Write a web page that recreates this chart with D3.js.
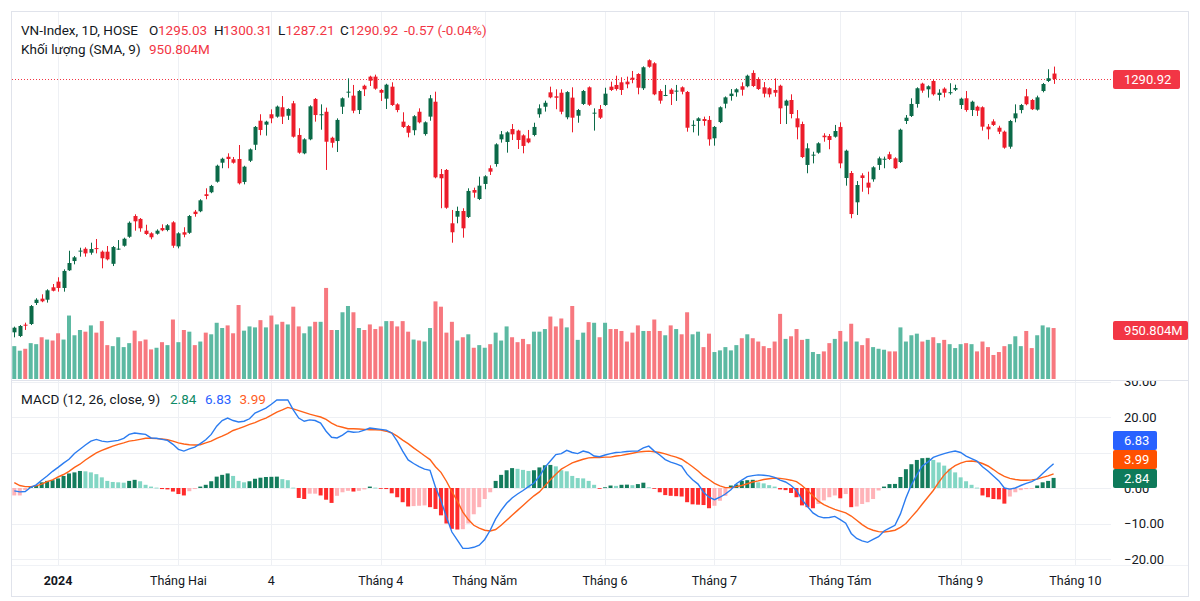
<!DOCTYPE html>
<html><head><meta charset="utf-8">
<script src="https://cdn.jsdelivr.net/npm/d3@7"></script>
<style>
body{margin:0;background:#fff;}
text{font-family:Roboto,"Liberation Sans",sans-serif;}
</style>
</head><body>
<svg id="c" width="1200" height="601"></svg>
<script>
// ---- DATA ----
const openP = [
1099.0,1096.2,1104.8,1105.3,1121.2,1124.5,1123.7,1133.1,1137.4,1132.6,
1146.0,1153.0,1160.5,1162.3,1159.3,1162.8,1160.1,1160.1,1150.9,1162.0,
1164.6,1171.4,1187.1,1184.9,1176.0,1174.0,1173.7,1178.0,1176.5,1182.3,
1164.1,1174.8,1174.4,1190.4,1190.7,1203.6,1205.1,1213.1,1227.5,1232.0,
1230.1,1230.3,1212.9,1229.0,1241.1,1259.3,1256.3,1264.2,1262.4,1269.5,
1263.1,1272.5,1248.5,1234.6,1245.2,1275.8,1263.8,1266.1,1246.4,1243.9,
1269.9,1280.9,1278.3,1267.4,1285.8,1292.7,1292.7,1282.6,1276.0,1285.1,
1271.7,1258.6,1255.3,1252.1,1266.1,1249.2,1262.4,1273.7,1218.9,1222.0,
1181.6,1186.6,1190.9,1186.4,1206.8,1200.0,1211.4,1223.3,1226.5,1245.2,
1243.2,1253.0,1251.8,1248.2,1245.9,1248.5,1264.2,1269.9,1280.8,1277.8,
1280.5,1261.9,1276.8,1263.1,1272.0,1284.6,1265.3,1268.2,1271.2,1285.1,
1286.4,1288.4,1288.9,1291.9,1294.7,1283.9,1305.1,1302.8,1281.8,1278.5,
1282.8,1281.8,1284.6,1281.1,1255.5,1259.1,1260.6,1259.9,1246.0,1258.3,
1272.2,1278.0,1280.8,1285.4,1285.4,1295.5,1290.9,1284.6,1283.9,1282.6,
1285.8,1270.7,1275.0,1261.1,1256.8,1225.8,1233.2,1235.1,1248.0,1247.7,
1247.2,1254.6,1215.9,1219.7,1197.5,1217.9,1212.4,1214.9,1225.8,1230.1,
1233.9,1230.8,1228.0,1259.1,1262.9,1272.0,1287.4,1283.1,1289.4,1278.8,
1283.6,1280.6,1282.8,1271.2,1276.3,1267.4,1269.9,1269.5,1254.8,1258.8,
1254.0,1251.0,1239.6,1261.1,1267.4,1277.8,1275.0,1267.7,1281.8,1289.4,
1295.03];
const highP = [
1103.3,1104.5,1106.3,1119.7,1124.8,1127.8,1131.6,1135.6,1140.7,1146.7,
1160.8,1156.8,1163.1,1163.4,1166.9,1169.7,1161.0,1164.4,1164.4,1168.9,
1170.7,1183.0,1188.4,1185.6,1180.5,1174.8,1177.0,1180.8,1181.0,1183.2,
1174.8,1178.6,1187.9,1191.7,1199.8,1208.1,1210.7,1226.0,1231.3,1234.6,
1231.8,1240.9,1225.2,1238.3,1255.3,1264.2,1259.3,1267.9,1270.8,1278.0,
1268.7,1274.3,1253.6,1246.0,1271.0,1276.5,1271.7,1269.2,1247.2,1261.1,
1277.0,1291.4,1286.4,1282.6,1286.6,1293.4,1294.2,1283.4,1287.3,1288.4,
1272.5,1265.7,1256.1,1263.5,1268.7,1258.8,1278.8,1281.3,1222.7,1222.7,
1191.7,1194.2,1193.0,1208.1,1208.6,1216.9,1218.0,1225.5,1242.2,1251.5,
1251.3,1256.8,1252.5,1249.0,1252.3,1257.8,1271.7,1274.5,1285.1,1283.1,
1283.1,1281.7,1284.6,1268.2,1282.6,1285.3,1268.7,1271.2,1284.3,1288.9,
1293.4,1292.2,1292.7,1297.0,1295.3,1300.5,1305.8,1303.6,1283.1,1286.4,
1283.9,1286.4,1285.3,1281.8,1259.6,1261.9,1262.4,1262.9,1255.3,1270.2,
1277.7,1283.3,1283.9,1288.4,1294.2,1297.5,1292.2,1288.6,1284.6,1291.4,
1286.6,1275.3,1279.3,1267.4,1258.6,1242.2,1235.8,1243.0,1249.8,1249.2,
1256.1,1258.1,1237.4,1221.2,1213.6,1219.5,1220.7,1224.8,1232.1,1232.1,
1235.8,1231.6,1253.3,1263.6,1276.3,1284.6,1288.1,1286.1,1290.7,1283.1,
1284.6,1287.7,1286.6,1276.8,1281.8,1274.5,1270.7,1270.2,1256.8,1260.4,
1255.5,1251.8,1259.9,1271.7,1272.0,1283.3,1275.8,1278.3,1287.9,1298.3,
1300.31];
const lowP = [
1095.2,1095.4,1100.8,1104.5,1119.7,1121.8,1121.5,1130.0,1129.8,1129.8,
1145.5,1150.5,1156.3,1156.3,1157.8,1158.8,1147.5,1153.5,1149.2,1161.4,
1163.9,1170.6,1176.0,1175.2,1172.8,1169.5,1173.0,1175.6,1175.5,1163.0,
1162.6,1171.0,1173.6,1186.6,1190.0,1199.8,1204.4,1212.4,1223.3,1223.3,
1226.8,1211.0,1211.1,1228.0,1237.1,1248.3,1248.0,1257.4,1261.6,1256.8,
1259.9,1246.5,1234.3,1233.9,1244.5,1258.6,1252.5,1222.0,1238.9,1235.6,
1264.4,1276.8,1265.0,1264.4,1278.0,1285.6,1282.8,1274.3,1268.2,1270.5,
1265.7,1253.8,1246.7,1248.3,1257.3,1248.0,1259.3,1215.7,1193.0,1192.6,
1166.9,1181.6,1170.7,1185.6,1201.0,1199.2,1207.4,1218.2,1224.5,1242.7,
1235.1,1244.7,1237.9,1234.6,1242.2,1247.5,1261.6,1266.2,1276.3,1268.0,
1264.2,1260.4,1250.5,1257.8,1271.2,1270.5,1251.8,1260.6,1270.5,1281.8,
1282.1,1278.8,1283.9,1287.7,1279.3,1282.6,1299.5,1278.6,1272.2,1277.9,
1271.2,1274.3,1279.3,1251.0,1250.5,1248.0,1255.5,1240.4,1240.4,1257.5,
1268.7,1274.5,1277.5,1278.3,1284.6,1284.8,1282.6,1277.0,1277.0,1277.5,
1256.8,1256.8,1261.1,1245.2,1231.0,1219.5,1227.0,1234.3,1243.4,1237.7,
1246.5,1223.3,1210.1,1185.4,1187.9,1205.5,1203.6,1213.1,1222.0,1223.3,
1229.6,1222.7,1227.3,1256.8,1262.1,1269.2,1280.5,1276.8,1278.3,1274.5,
1277.0,1279.0,1281.8,1268.2,1266.1,1262.9,1262.9,1251.8,1245.2,1255.3,
1249.2,1238.1,1238.1,1258.1,1264.9,1271.0,1267.4,1267.0,1280.8,1288.6,
1287.21];
const closeP = [
1102.5,1103.8,1104.0,1118.9,1123.7,1122.5,1130.8,1130.5,1132.6,1145.5,
1151.5,1155.8,1160.9,1158.8,1162.1,1162.3,1155.1,1154.3,1163.6,1162.4,
1169.9,1182.0,1183.1,1177.8,1173.5,1171.0,1176.0,1176.3,1180.1,1164.6,
1174.0,1173.0,1187.1,1188.6,1199.0,1202.3,1209.9,1225.2,1230.5,1230.3,
1227.5,1211.9,1224.5,1237.6,1254.6,1252.3,1258.6,1261.1,1270.0,1262.4,
1268.2,1247.2,1235.1,1245.2,1270.2,1263.6,1264.2,1243.4,1242.6,1259.9,
1276.3,1281.3,1266.9,1281.8,1283.1,1289.6,1283.6,1280.5,1286.6,1271.2,
1267.4,1254.6,1250.2,1262.7,1258.1,1258.1,1276.3,1216.4,1215.7,1193.4,
1174.8,1190.9,1177.8,1206.1,1204.8,1210.1,1217.2,1220.7,1241.4,1249.0,
1250.5,1249.0,1244.7,1240.2,1242.9,1254.6,1268.7,1272.9,1277.0,1276.7,
1266.1,1281.0,1261.6,1267.4,1281.8,1271.4,1265.4,1261.6,1279.8,1282.6,
1283.3,1282.6,1286.9,1290.4,1284.3,1299.8,1300.2,1279.3,1274.5,1278.8,
1279.6,1282.1,1281.3,1254.0,1256.2,1261.1,1259.1,1245.2,1254.6,1269.5,
1277.0,1279.8,1283.1,1282.8,1293.4,1285.6,1283.3,1279.8,1279.3,1280.5,
1268.7,1274.5,1264.4,1254.3,1231.8,1238.4,1233.6,1242.2,1246.8,1244.7,
1251.5,1227.0,1236.6,1188.6,1210.6,1215.9,1208.6,1224.0,1230.8,1230.5,
1230.3,1223.3,1252.5,1261.6,1272.0,1283.9,1282.1,1285.4,1279.3,1280.5,
1280.5,1280.9,1284.1,1276.0,1267.4,1273.7,1266.9,1254.8,1252.8,1256.1,
1251.0,1238.9,1259.1,1264.9,1271.2,1271.8,1268.0,1277.0,1287.1,1291.49,
1290.92];
// volume, millions of shares
const volumeM = [
613,528,564,669,650,779,736,718,853,736,
1184,816,914,883,1000,865,1080,632,613,779,
595,669,902,705,736,552,583,687,632,1110,
687,914,883,632,699,865,834,1049,951,1000,
853,1380,902,981,963,1098,963,1184,1018,1067,
1018,1349,981,853,981,1067,1067,1699,914,914,
1245,1362,1245,951,914,1018,932,981,1080,1080,
981,1080,883,736,718,699,951,1448,1349,865,
1067,718,779,834,583,632,583,650,865,718,
981,779,687,748,650,883,883,932,1165,981,
1129,963,1362,730,865,1061,1049,779,1049,932,
932,896,699,865,1000,896,896,1110,896,816,
1000,932,834,1245,834,883,595,846,503,534,
595,534,632,761,834,761,699,613,577,699,
1215,748,797,932,730,748,503,466,515,669,
748,896,699,1031,699,632,761,595,564,546,
515,515,963,699,816,846,699,730,779,669,
730,650,577,650,669,650,515,699,595,448,
503,613,650,797,613,896,577,816,1000,963,
950.804];
const macdLine = [
-0.8,-1.1,-1.0,0.2,0.9,2.2,3.4,4.7,5.8,7.0,
8.1,9.7,10.9,12.1,13.2,13.7,13.2,13.0,13.2,13.4,
14.0,15.1,15.5,15.3,15.1,14.1,14.0,13.7,13.4,12.3,
10.9,10.4,11.0,11.5,12.5,13.6,15.1,17.4,19.0,19.7,
19.0,18.6,18.8,19.5,21.1,21.8,22.5,23.6,24.8,24.8,
24.8,22.0,19.7,18.8,19.2,19.0,18.3,16.0,14.3,14.1,
14.9,16.0,15.7,15.8,16.3,16.9,16.7,16.5,16.3,15.5,
13.2,10.4,7.9,6.9,6.0,5.3,5.0,0.2,-3.5,-8.2,
-12.4,-14.7,-17.0,-17.0,-16.7,-16.1,-14.5,-11.9,-8.7,-6.3,
-4.3,-2.8,-1.7,-0.7,0.4,1.4,3.3,5.8,7.6,9.4,
9.7,10.6,10.0,9.7,10.4,10.0,9.0,8.8,9.3,9.7,
10.0,10.1,10.3,10.4,10.4,11.3,11.8,10.4,9.3,8.0,
7.3,6.8,6.2,3.9,2.3,1.1,-1.2,-2.6,-3.3,-2.6,
-1.7,-0.5,1.2,2.2,3.2,3.5,3.7,3.6,3.4,3.0,
2.2,1.7,0.7,-0.7,-3.3,-5.2,-7.0,-8.0,-8.4,-8.3,
-8.0,-8.9,-9.9,-12.8,-14.2,-14.9,-15.3,-14.5,-13.7,-12.1,
-11.3,-10.5,-7.3,-2.8,0.9,3.7,6.2,7.3,8.6,9.2,
9.7,10.1,10.4,10.0,9.0,8.3,7.6,6.0,4.8,3.4,
2.0,0.0,-0.3,0.0,0.7,1.3,1.8,2.6,4.1,5.5,
6.83];
const signalLine = [
1.5,0.7,0.4,0.4,0.6,1.1,1.8,2.3,3.1,3.8,
4.7,5.8,6.7,7.9,8.9,9.9,10.6,11.2,11.8,12.3,
12.7,13.2,13.4,13.7,14.0,14.0,13.9,13.8,13.6,13.2,
12.7,12.4,12.2,12.1,12.2,12.7,13.2,14.0,14.6,15.3,
16.2,16.7,17.3,17.9,18.4,19.1,19.7,20.5,21.4,22.0,
22.7,22.3,21.8,21.3,20.8,20.4,20.0,19.3,18.3,17.5,
17.1,16.7,16.7,16.6,16.5,16.4,16.4,16.3,16.0,15.5,
14.6,13.5,12.5,11.3,10.2,9.1,8.0,6.0,4.4,1.9,
-1.0,-3.7,-6.8,-8.9,-10.5,-11.3,-11.9,-12.1,-11.7,-10.5,
-9.1,-7.7,-6.3,-4.9,-3.5,-2.2,-1.1,0.6,2.3,3.9,
5.3,6.2,7.1,7.6,8.1,8.5,8.6,8.6,8.7,8.7,
9.0,9.2,9.5,9.8,10.1,10.3,10.4,10.2,10.0,9.6,
9.1,8.7,8.1,7.1,6.0,4.8,3.4,2.4,1.3,0.6,
0.1,0.1,0.4,0.7,1.2,1.7,2.0,2.4,2.6,2.8,
2.7,2.5,2.2,1.8,0.7,-0.7,-2.2,-3.7,-4.7,-5.4,
-6.0,-6.5,-7.0,-7.9,-9.1,-10.3,-11.3,-11.9,-12.3,-12.4,
-12.2,-11.9,-11.1,-10.0,-8.2,-6.5,-4.5,-2.6,-0.7,1.6,
3.7,5.2,6.3,7.0,7.5,7.6,7.4,6.9,6.2,5.2,
4.1,3.3,2.7,2.4,2.2,2.2,2.3,2.5,3.0,3.4,
3.99];
const histVals = [
-2.1,-2.1,-0.6,0.4,0.7,1.6,2.0,2.2,2.7,3.4,
4.1,4.4,4.8,4.7,4.4,3.9,3.0,2.0,1.7,1.6,
1.5,2.0,2.3,1.9,0.9,0.4,0.1,-0.3,-0.4,-1.0,
-1.7,-2.1,-0.9,-0.3,0.4,0.9,1.9,3.2,3.7,4.1,
3.4,2.0,1.6,1.9,2.6,2.9,3.1,3.15,3.2,2.5,
2.2,0.1,-2.8,-3.1,-1.6,-1.6,-2.1,-3.3,-4.2,-2.2,
-1.2,-0.8,-1.0,-0.8,-0.4,0.4,0.1,-0.2,-0.3,-1.5,
-2.6,-4.0,-5.2,-5.1,-5.0,-4.9,-5.4,-5.9,-7.7,-10.0,
-11.5,-11.7,-11.6,-10.0,-7.4,-5.4,-3.1,-1.2,2.0,3.7,
5.0,5.6,5.4,5.1,4.8,5.0,5.8,6.4,6.5,6.1,
5.0,4.7,3.4,2.8,2.7,2.0,0.9,-0.1,0.2,0.7,
0.6,0.9,0.95,0.8,1.1,1.5,0.2,-0.2,-1.2,-2.0,
-2.2,-2.3,-2.4,-4.0,-4.6,-4.7,-4.8,-5.7,-5.0,-3.6,
-2.2,0.7,1.0,2.0,2.2,2.3,1.6,1.3,0.8,0.4,
-0.4,-0.6,-1.4,-2.6,-4.9,-5.4,-5.7,-4.5,-3.5,-2.6,
-2.1,-2.9,-1.7,-5.4,-5.2,-4.5,-4.0,-3.1,-0.7,0.4,
1.1,1.15,3.1,5.3,6.7,7.9,8.4,8.5,7.9,7.2,
6.3,5.4,4.4,3.0,1.9,0.9,0.1,-2.1,-2.6,-3.1,
-3.2,-4.4,-2.4,-1.2,-0.6,-0.3,-0.1,0.7,1.6,2.0,
2.84];
const tickIdx = [8,30,47,67,86,108,128,151,173,194];
const tickLabels = ["2024","Tháng Hai","4","Tháng 4","Tháng Năm","Tháng 6","Tháng 7","Tháng Tám","Tháng 9","Tháng 10"];
const macdTicks = [30,20,10,0,-10,-20];
const macdTickLabels = [30,20,0,-10,-20]; // 10.00 is hidden behind the value tags

// ---- LAYOUT ----
const W=1200,H=601;
const L=12, R=1111, AX=1188;
const P1T=12, P1B=380, P2T=381, P2B=565;
const UP='#0b6a48', DN='#ec1c2a';
const VUP='#5cb9a2', VDN='#f7787f';
const HC={ga:'#137c5c', fa:'#82d6c4', rb:'#ffb3b8', fb:'#ff2b2b'};
const TXT='#131722', RED='#f23645';

const svg=d3.select('#c');
svg.append('rect').attr('width',W).attr('height',H).attr('fill','#fff');

const n=closeP.length;
const x=d3.scaleLinear().domain([0,190]).range([14.3,1053.6]);
const yP=d3.scaleLinear().domain([1100,1300]).range([331.0,67.0]);
const yV=d3.scaleLinear().domain([0,1000]).range([379,325.4]);
const yM=d3.scaleLinear().domain([-20,30]).range([559,381.5]);

const defs=svg.append('defs');
defs.append('clipPath').attr('id','cp1').append('rect').attr('x',L).attr('y',P1T).attr('width',R-L).attr('height',P1B-P1T);
defs.append('clipPath').attr('id','cp2').append('rect').attr('x',L).attr('y',P2T).attr('width',R-L).attr('height',P2B-P2T);
defs.append('clipPath').attr('id','cpa').append('rect').attr('x',R).attr('y',P2T).attr('width',AX-R).attr('height',P2B-P2T);
// part of the axis column left visible below the stacked value tags
defs.append('clipPath').attr('id','cpz').append('rect').attr('x',R).attr('y',488).attr('width',AX-R).attr('height',P2B-488);

// vertical grid
svg.append('g').selectAll('line').data(tickIdx).join('line')
  .attr('x1',d=>Math.round(x(d))+0.5).attr('x2',d=>Math.round(x(d))+0.5)
  .attr('y1',P1T).attr('y2',P2B).attr('stroke','#eef0f4').attr('stroke-width',1);
// MACD horizontal grid
svg.append('g').selectAll('line').data(macdTicks).join('line')
  .attr('x1',L).attr('x2',R).attr('y1',d=>Math.round(yM(d))+0.5).attr('y2',d=>Math.round(yM(d))+0.5)
  .attr('stroke','#eef0f4');

// volume
const g1=svg.append('g').attr('clip-path','url(#cp1)');
g1.append('g').selectAll('rect').data(volumeM).join('rect')
  .attr('x',(d,i)=>x(i)-2).attr('width',4)
  .attr('y',d=>yV(d)).attr('height',d=>yV(0)-yV(d))
  .attr('fill',(d,i)=>closeP[i]>=openP[i]?VUP:VDN);

// price line
g1.append('line').attr('x1',L).attr('x2',R).attr('y1',Math.round(yP(closeP[n-1]))+0.5).attr('y2',Math.round(yP(closeP[n-1]))+0.5)
  .attr('stroke',RED).attr('stroke-dasharray','1,2').attr('stroke-width',1);

// candles
const cg=g1.append('g').selectAll('g').data(d3.range(n)).join('g');
cg.append('line').attr('x1',i=>Math.round(x(i))+0.5).attr('x2',i=>Math.round(x(i))+0.5)
  .attr('y1',i=>yP(highP[i])).attr('y2',i=>yP(lowP[i]))
  .attr('stroke',i=>closeP[i]>=openP[i]?UP:DN).attr('stroke-width',1);
cg.append('rect').attr('x',i=>Math.round(x(i))-1.5).attr('width',4)
  .attr('y',i=>yP(Math.max(openP[i],closeP[i])))
  .attr('height',i=>Math.max(1,Math.abs(yP(openP[i])-yP(closeP[i]))))
  .attr('fill',i=>closeP[i]>=openP[i]?UP:DN);

// MACD histogram
const g2=svg.append('g').attr('clip-path','url(#cp2)');
function hcol(i){const h=histVals[i],p=i>0?histVals[i-1]:h; if(h>=0) return h>p?HC.ga:HC.fa; return h<p?HC.fb:HC.rb;}
g2.append('g').selectAll('rect').data(histVals).join('rect')
  .attr('x',(d,i)=>x(i)-2).attr('width',4)
  .attr('y',d=>Math.min(yM(d),yM(0))).attr('height',d=>Math.max(0.8,Math.abs(yM(d)-yM(0))))
  .attr('fill',(d,i)=>hcol(i));
const ln=d3.line().x((d,i)=>x(i)).y(d=>yM(d)).curve(d3.curveLinear);
g2.append('path').datum(signalLine).attr('d',ln).attr('fill','none').attr('stroke','#ff6218').attr('stroke-width',1.4);
g2.append('path').datum(macdLine).attr('d',ln).attr('fill','none').attr('stroke','#2b7cf0').attr('stroke-width',1.4);

// pane borders & frame
svg.append('line').attr('x1',L).attr('x2',AX).attr('y1',380.5).attr('y2',380.5).attr('stroke','#e0e3eb');
svg.append('line').attr('x1',L).attr('x2',AX).attr('y1',565.5).attr('y2',565.5).attr('stroke','#f0f2f6');
svg.append('rect').attr('x',11.5).attr('y',11.5).attr('width',1177).attr('height',585).attr('fill','none').attr('stroke','#e0e3eb');

// MACD axis labels (0.00 shows only below the value tags, as in the original)
const ga=svg.append('g').attr('clip-path','url(#cpa)');
ga.selectAll('text').data(macdTickLabels).join('text')
  .attr('x',1124).attr('y',d=>yM(d)+4.5).attr('font-size',13).attr('fill',TXT)
  .attr('clip-path',d=>d===0?'url(#cpz)':null)
  .text(d=>d3.format('.2f')(d).replace('-','−'));

// axis value tags
function tag(y,w,col,txt){
  svg.append('rect').attr('x',1113).attr('y',y).attr('width',w).attr('height',19).attr('rx',2).attr('fill',col);
  svg.append('text').attr('x',1124).attr('y',y+14).attr('font-size',13).attr('fill','#fff').text(txt);
}
tag(70,67,RED,'1290.92');
tag(321,75,RED,'950.804M');
tag(431,44,'#2962ff','6.83');
tag(450,44,'#ff5100','3.99');
tag(469,44,'#0e7a5a','2.84');

// time axis
svg.append('g').selectAll('text').data(tickIdx).join('text')
  .attr('x',d=>x(d)).attr('y',585).attr('text-anchor','middle').attr('font-size',12.5)
  .attr('fill',TXT).attr('font-weight',(d,i)=>i===0?'bold':'normal')
  .text((d,i)=>tickLabels[i]);

// legends
function t(xp,yp,s,col){svg.append('text').attr('x',xp).attr('y',yp).attr('font-size',13.5).attr('fill',col).text(s);}
t(21,34.5,'VN-Index, 1D, HOSE',TXT);
t(149,34.5,'O',TXT); t(158,34.5,'1295.03',RED);
t(214,34.5,'H',TXT); t(223,34.5,'1300.31',RED);
t(278,34.5,'L',TXT); t(285.5,34.5,'1287.21',RED);
t(340,34.5,'C',TXT); t(349,34.5,'1290.92',RED);
t(404,34.5,'-0.57 (-0.04%)',RED);
t(21,54,'Khối lượng (SMA, 9)',TXT); t(149,54,'950.804M',RED);
t(21,404,'MACD (12, 26, close, 9)',TXT);
t(170,404,'2.84','#0e8a66'); t(205,404,'6.83','#2962ff'); t(239.5,404,'3.99','#ff5d1f');
</script>
</body></html>
